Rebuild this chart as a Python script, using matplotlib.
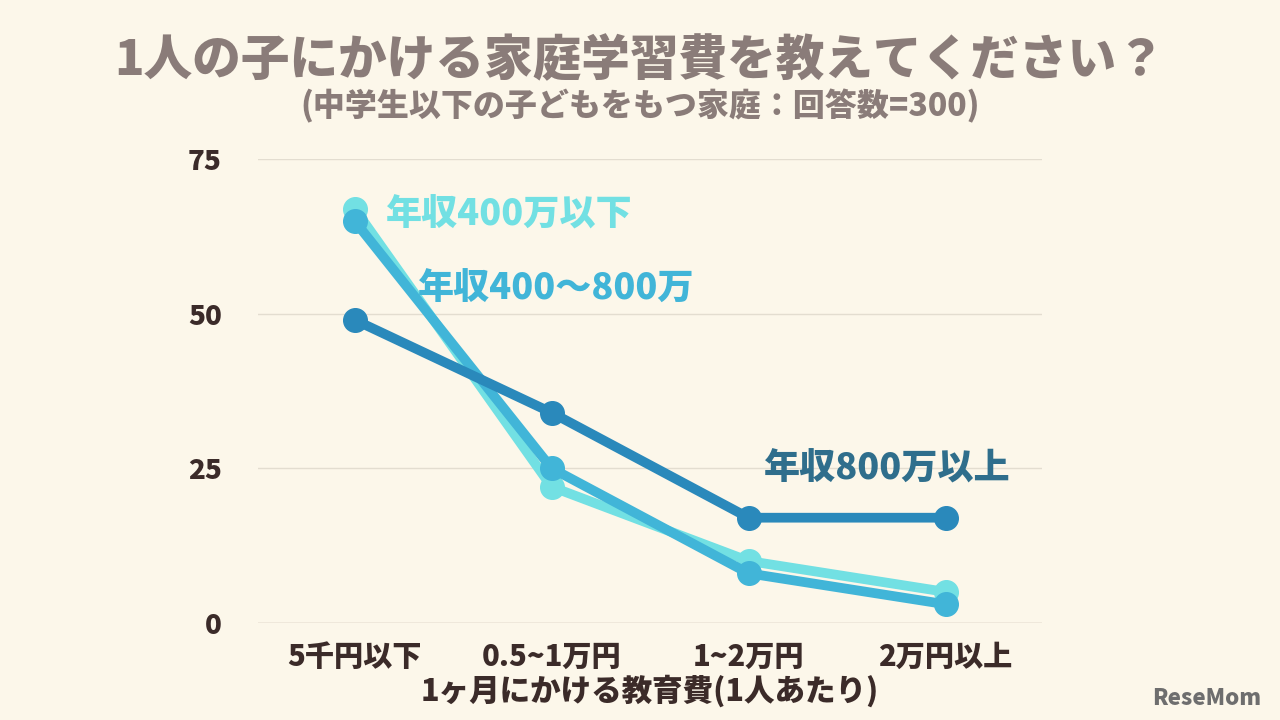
import matplotlib
matplotlib.use("Agg")
import matplotlib.pyplot as plt

plt.rcParams['font.family'] = ['Noto Sans CJK JP', 'DejaVu Sans']

# データ
categories = ["5千円以下", "0.5~1万円", "1~2万円", "2万円以上"]
low_income = [67, 22, 10, 5]      # 年収400万以下
mid_income = [65, 25, 8, 3]       # 年収400〜800万
high_income = [49, 34, 17, 17]    # 年収800万以上
y_ticks = [0, 25, 50, 75]

BG = "#fcf7ea"
C_LOW = "#72e0e3"
C_MID = "#41b5d8"
C_HIGH = "#2a89bb"
TXT = "#3b2b29"
W = "heavy"

fig = plt.figure(figsize=(12.8, 7.2), dpi=100, facecolor=BG)
ax = fig.add_axes([0.2016, 0.135, 0.6125, 0.644], facecolor=BG)

x = range(len(categories))
ax.plot(x, low_income, color=C_LOW, lw=7, marker="o", ms=17, zorder=3)
ax.plot(x, mid_income, color=C_MID, lw=7, marker="o", ms=17, zorder=4)
ax.plot(x, high_income, color=C_HIGH, lw=7, marker="o", ms=17, zorder=5)

ax.set_xlim(-0.49, 3.49)
ax.set_ylim(0, 75)
ax.set_yticks(y_ticks)
ax.set_xticks(list(x))
ax.set_xticklabels(categories, fontsize=21, fontweight=W, color=TXT)
ax.tick_params(axis="y", labelsize=20, colors=TXT, length=0, pad=26)
ax.tick_params(axis="x", length=0, pad=14)
for lbl in ax.get_yticklabels():
    lbl.set_fontweight(W)
ax.grid(axis="y", color="#e3ddd0", lw=1)
for s in ax.spines.values():
    s.set_visible(False)
ax.axhline(0, color="#cfc8bb", lw=1)

ax.set_xlabel("1ヶ月にかける教育費(1人あたり)", fontsize=22, fontweight=W,
              color=TXT, labelpad=2)

# 系列ラベル
ax.text(0.16, 66, "年収400万以下", fontsize=26, fontweight=W, color=C_LOW, va="center")
ax.text(0.32, 54, "年収400〜800万", fontsize=26, fontweight=W, color=C_MID, va="center")
ax.text(2.08, 25, "年収800万以上", fontsize=26, fontweight=W, color="#2f6e8c", va="center")

fig.text(0.5, 0.915, "1人の子にかける家庭学習費を教えてください？", ha="center", va="center",
         fontsize=35, fontweight=W, color="#8a7c79")
fig.text(0.5, 0.852, "(中学生以下の子どもをもつ家庭：回答数=300)", ha="center", va="center",
         fontsize=23, fontweight=W, color="#8a7c79")
fig.text(0.985, 0.03, "ReseMom", ha="right", va="center", fontsize=16,
         fontweight=W, color="#6e6e6e")

fig.savefig("out.png", dpi=100, facecolor=BG)
